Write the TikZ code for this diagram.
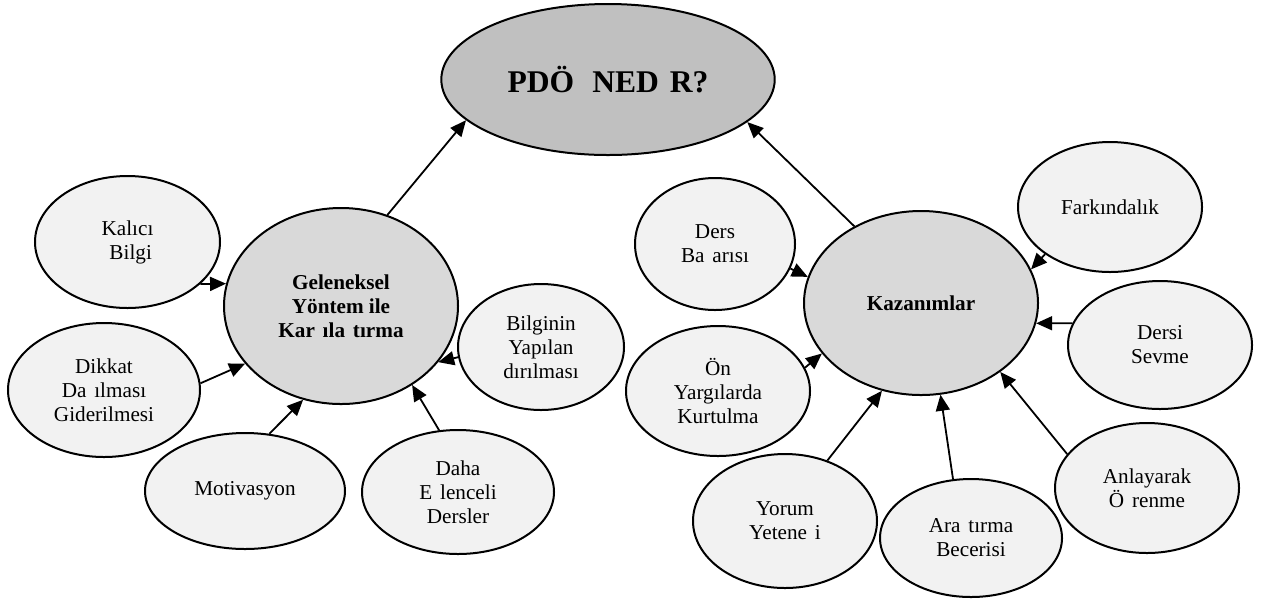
\documentclass[tikz,border=0pt]{standalone}
\usepackage{fontspec}
\setmainfont{Liberation Serif}
\usetikzlibrary{shapes.geometric,arrows.meta}

\definecolor{satfill}{RGB}{242,242,242}
\definecolor{hubfill}{RGB}{217,217,217}
\definecolor{topfill}{RGB}{192,192,192}
% blank left where a glyph is absent from the label font
\newcommand{\miss}{\hspace{0.37em}}

\begin{document}
\begin{tikzpicture}[x=0.5pt,y=-0.5pt,
  bubble/.style={ellipse, draw=black, line width=1pt, inner sep=0pt, align=center,
    font=\fontsize{10.6}{12}\selectfont},
  sat/.style={bubble, fill=satfill},
  hub/.style={bubble, fill=hubfill, font=\fontsize{10.6}{12}\selectfont\bfseries},
  topnode/.style={bubble, fill=topfill, font=\fontsize{15.8}{18}\selectfont\bfseries},
  link/.style={line width=0.9pt, -{Triangle[length=8pt,width=7pt]}},
  ]
\useasboundingbox (0,0) rectangle (1267,601);

% top question
\node[topnode, minimum width=166.7pt, minimum height=75.5pt] (title) at (608,79.5)
  {PDÖ\hspace{0.57em}NED\hspace{0.34em}R?};

% left cluster
\node[hub, minimum width=117pt, minimum height=98pt] (gel) at (341,306)
  {Geleneksel\\Yöntem ile\\Kar\miss ıla\miss tırma};
\node[sat, minimum width=92.5pt, minimum height=66pt] (kal) at (127.5,242)
  {Kalıcı\\\hspace{0.3em}Bilgi};
\node[sat, minimum width=96pt, minimum height=67pt] (dik) at (104,390)
  {Dikkat\\Da\miss ılması\\Giderilmesi};
\node[sat, minimum width=100pt, minimum height=58pt] (mot) at (245,491)
  {Motivasyon};
\node[sat, minimum width=96pt, minimum height=62pt] (daha) at (458,492)
  {Daha\\E\miss lenceli\\Dersler};
\node[sat, minimum width=83pt, minimum height=63pt] (bil) at (541,347)
  {Bilginin\\Yapılan\\dırılması};

% right cluster
\node[hub, minimum width=117pt, minimum height=92pt] (kaz) at (921,303)
  {Kazanımlar};
\node[sat, minimum width=80pt, minimum height=66pt] (ders) at (715,244)
  {Ders\\Ba\miss arısı};
\node[sat, minimum width=92pt, minimum height=65pt] (onyar) at (718,391)
  {Ön\\Yargılarda\\Kurtulma};
\node[sat, minimum width=92pt, minimum height=65pt] (fark) at (1110,207)
  {Farkındalık};
\node[sat, minimum width=92pt, minimum height=64pt] (sevme) at (1160,345)
  {Dersi\\Sevme};
\node[sat, minimum width=92pt, minimum height=67pt] (yorum) at (785,521)
  {Yorum\\Yetene\miss i};
\node[sat, minimum width=91pt, minimum height=59pt] (arast) at (971,538)
  {Ara\miss tırma\\Becerisi};
\node[sat, minimum width=92pt, minimum height=65pt] (anla) at (1147,488)
  {Anlayarak\\Ö\miss renme};

% connectors
\draw[link] (gel.63) -- (title.196);
\draw[link] (kaz.131) -- (title.343);

\draw[link] (kal.330) -- (gel.169);
\draw[link] (dik.4) -- (gel.211);
\draw[link] (mot.67) -- (gel.248);
\draw[link] (daha.107) -- (gel.312);
\draw[link] (bil.187) -- (gel.330);

\draw[link] (ders.342) -- (kaz.167);
\draw[link] (onyar.15) -- (kaz.207);
\draw[link] (fark.216) -- (kaz.17);
\draw[link] (sevme.166) -- (kaz.350);
\draw[link] (anla.157) -- (kaz.319);
\draw[link] (arast.107) -- (kaz.282);
\draw[link] (yorum.55) -- (kaz.246);
\end{tikzpicture}
\end{document}
